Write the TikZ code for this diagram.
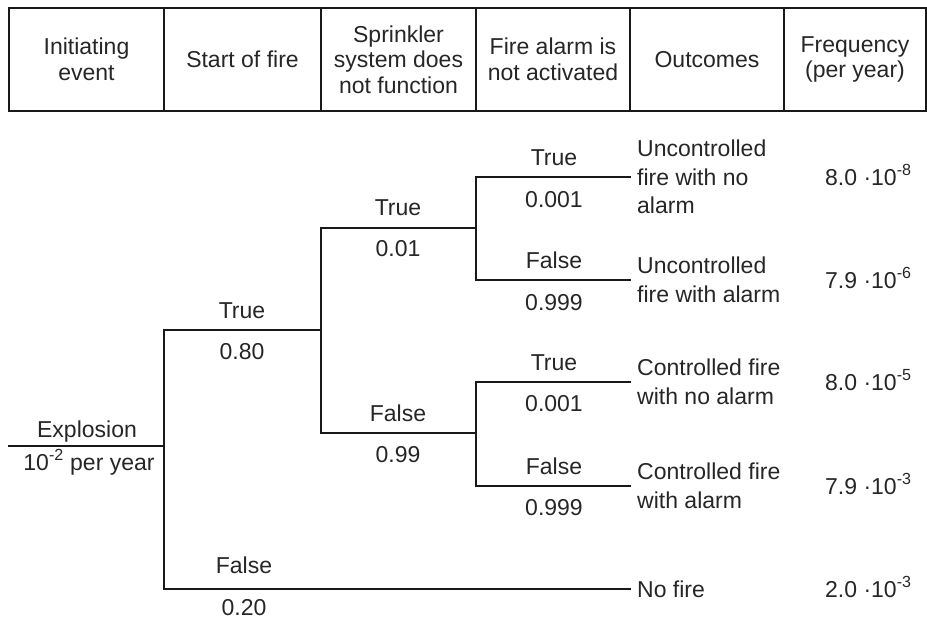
\documentclass[tikz,border=0pt]{standalone}
\usepackage{fontspec}
\setmainfont{Liberation Sans}
\usetikzlibrary{positioning}
\newcommand{\hfont}{\fontsize{23}{25.5}\selectfont}
\newcommand{\ofont}{\fontsize{23}{28.5}\selectfont}
\colorlet{ink}{black!85}
\tikzset{
  hcell/.style={draw=black!90,line width=1.7pt,align=center,inner sep=0pt,
    outer sep=0pt,minimum height=103pt,text=ink,font=\hfont},
  plbl/.style={anchor=base,inner sep=0pt,text=ink,font=\ofont},
  outc/.style={anchor=west,align=left,inner xsep=7pt,inner ysep=0pt,
    text=ink,font=\ofont},
  freq/.style={anchor=base west,inner sep=0pt,text=ink,font=\ofont},
  branch/.style={draw=black!90,line width=1.7pt,line cap=rect,line join=miter},
}

\begin{document}
\begin{tikzpicture}[x=1pt,y=-1pt]
\useasboundingbox (0,0) rectangle (927,619);
% header row
\node[hcell,minimum width=155pt,anchor=north west] (h1) at (9,8) {Initiating\\event};
\node[hcell,minimum width=157pt,right=0pt of h1] (h2) {Start of fire};
\node[hcell,minimum width=155pt,right=0pt of h2] (h3) {Sprinkler\\system does\\not function};
\node[hcell,minimum width=154pt,right=0pt of h3] (h4) {Fire alarm is\\not activated};
\node[hcell,minimum width=154pt,right=0pt of h4] (h5) {Outcomes};
\node[hcell,minimum width=142pt,right=0pt of h5] (h6) {Frequency\\(per year)};
% branch points
\coordinate (e0) at (9,446);
\coordinate (b1) at (164,446);
\coordinate (b1t) at (164,330); \coordinate (b1f) at (164,589);
\coordinate (b2) at (321,330);
\coordinate (b2t) at (321,228); \coordinate (b2f) at (321,433);
\coordinate (b3) at (476,228);
\coordinate (b3t) at (476,177); \coordinate (b3f) at (476,280);
\coordinate (b4) at (476,433);
\coordinate (b4t) at (476,382); \coordinate (b4f) at (476,486);
% outcomes
\node[outc] (o1) at (630,177) {Uncontrolled\\fire with no\\alarm};
\node[outc] (o2) at (630,280) {Uncontrolled\\fire with alarm};
\node[outc] (o3) at (630,382) {Controlled fire\\with no alarm};
\node[outc] (o4) at (630,486) {Controlled fire\\with alarm};
\node[outc] (o5) at (630,589) {No fire};
% frequencies
\node[freq] (f1) at (825,185) {8.0 ·10\textsuperscript{-8}};
\node[freq] (f2) at (825,288) {7.9 ·10\textsuperscript{-6}};
\node[freq] (f3) at (825,390) {8.0 ·10\textsuperscript{-5}};
\node[freq] (f4) at (825,494) {7.9 ·10\textsuperscript{-3}};
\node[freq] (f5) at (825,597) {2.0 ·10\textsuperscript{-3}};
% branch labels
\node[plbl] (ex) at (87,437) {Explosion};
\node[plbl] (exr) at (89,470) {10\textsuperscript{-2} per year};
\node[plbl] (ft) at (242,318) {True};
\node[plbl] (ftp) at (242,359) {0.80};
\node[plbl] (ff) at (244,573) {False};
\node[plbl] (ffp) at (244,615) {0.20};
\node[plbl] (st) at (398,215) {True};
\node[plbl] (stp) at (398,256) {0.01};
\node[plbl] (sf) at (398,421) {False};
\node[plbl] (sfp) at (398,462) {0.99};
\node[plbl] (at1) at (554,165) {True};
\node[plbl] (at1p) at (554,207) {0.001};
\node[plbl] (af1) at (554,268) {False};
\node[plbl] (af1p) at (554,310) {0.999};
\node[plbl] (at2) at (554,370) {True};
\node[plbl] (at2p) at (554,411) {0.001};
\node[plbl] (af2) at (554,474) {False};
\node[plbl] (af2p) at (554,515) {0.999};
% tree
\draw[branch] (e0) -- (b1);
\draw[branch] (b1t) -- (b1f);
\draw[branch] (b1t) -- (b2);
\draw[branch] (b1f) -- (b1f -| o5.west);
\draw[branch] (b2t) -- (b2f);
\draw[branch] (b2t) -- (b3);
\draw[branch] (b2f) -- (b4);
\draw[branch] (b3t) -- (b3f);
\draw[branch] (b4t) -- (b4f);
\draw[branch] (b3t) -- (b3t -| o1.west);
\draw[branch] (b3f) -- (b3f -| o2.west);
\draw[branch] (b4t) -- (b4t -| o3.west);
\draw[branch] (b4f) -- (b4f -| o4.west);
\end{tikzpicture}
\end{document}
